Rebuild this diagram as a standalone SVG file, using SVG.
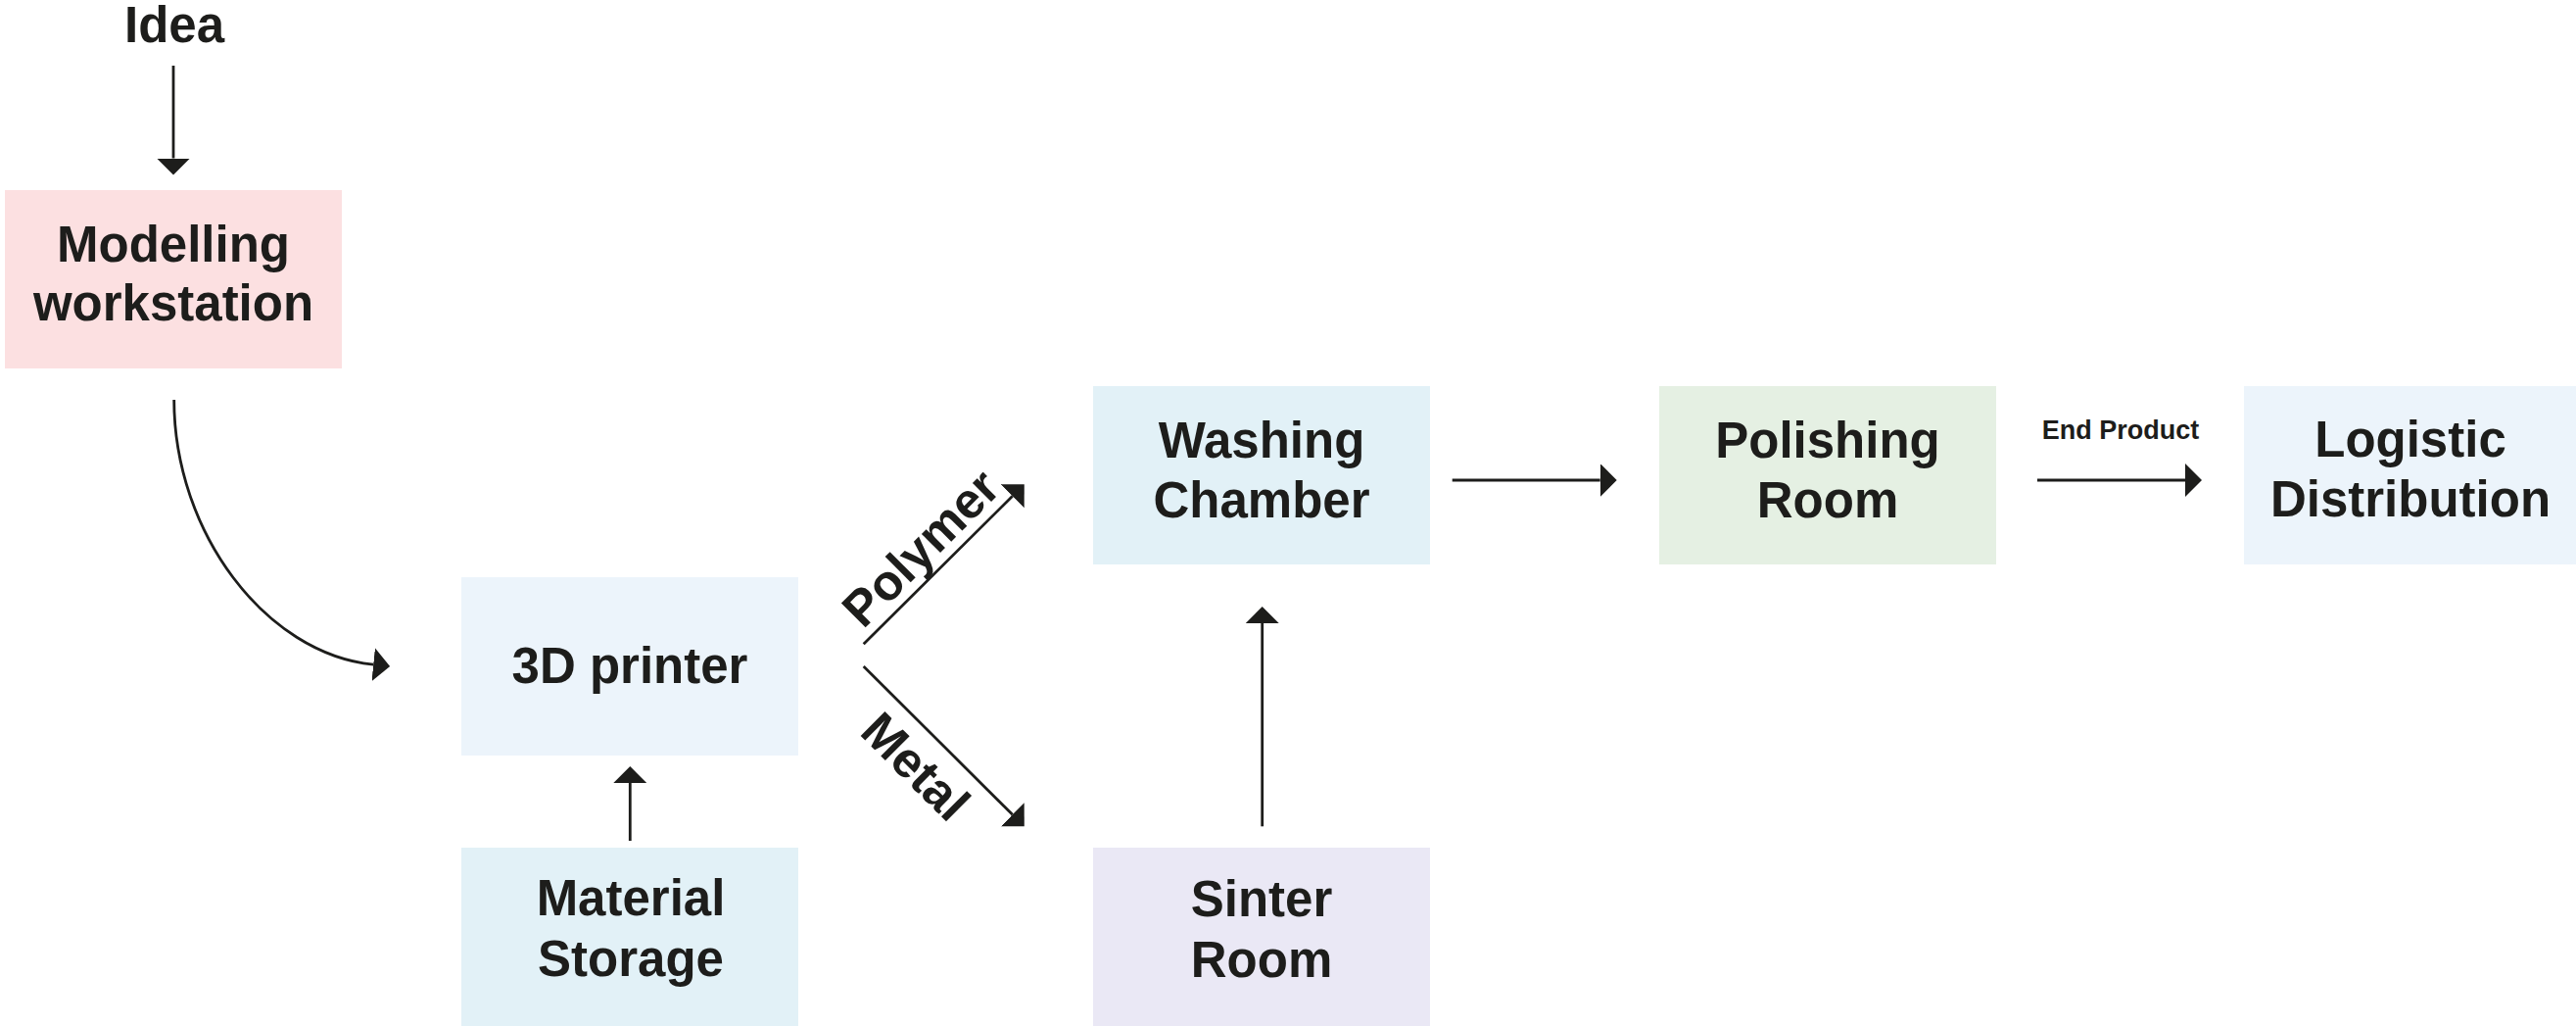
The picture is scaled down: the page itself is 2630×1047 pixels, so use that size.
<svg xmlns="http://www.w3.org/2000/svg" width="2630" height="1047" viewBox="0 0 2630 1047">
  <style>
    .lbl { font-family: "Liberation Sans", Arial, sans-serif; font-weight: bold; font-size: 51px; fill: #1d1d1b; text-anchor: middle; }
    .small { font-size: 27px; }
    .conn { fill: none; stroke: #1d1d1b; stroke-width: 2.8; }
  </style>
  <defs>
    <marker id="arrow" viewBox="0 0 17 34" refX="0" refY="17" markerWidth="17" markerHeight="34" markerUnits="userSpaceOnUse" orient="auto">
      <path d="M0,0 L17,17 L0,34 Z" fill="#1d1d1b"/>
    </marker>
  </defs>
  <rect width="2630" height="1047" fill="#ffffff"/>

  <g id="idea">
    <text class="lbl" x="178" y="43">Idea</text>
  </g>
  <g id="modelling">
    <rect x="5" y="194" width="344" height="182" fill="#fce0e1"/>
    <text class="lbl" x="177" y="267">Modelling</text>
    <text class="lbl" x="177" y="327">workstation</text>
  </g>
  <g id="printer">
    <rect x="471" y="589" width="344" height="182" fill="#ecf4fb"/>
    <text class="lbl" x="643" y="697">3D printer</text>
  </g>
  <g id="material">
    <rect x="471" y="865" width="344" height="182" fill="#e2f1f7"/>
    <text class="lbl" x="644" y="934">Material</text>
    <text class="lbl" x="644" y="996">Storage</text>
  </g>
  <g id="washing">
    <rect x="1116" y="394" width="344" height="182" fill="#e2f1f7"/>
    <text class="lbl" x="1288" y="467">Washing</text>
    <text class="lbl" x="1288" y="528">Chamber</text>
  </g>
  <g id="sinter">
    <rect x="1116" y="865" width="344" height="182" fill="#eae8f5"/>
    <text class="lbl" x="1288" y="935">Sinter</text>
    <text class="lbl" x="1288" y="997">Room</text>
  </g>
  <g id="polishing">
    <rect x="1694" y="394" width="344" height="182" fill="#e5f0e3"/>
    <text class="lbl" x="1866" y="467">Polishing</text>
    <text class="lbl" x="1866" y="528">Room</text>
  </g>
  <g id="logistic">
    <rect x="2291" y="394" width="339" height="182" fill="#ecf4fb"/>
    <text class="lbl" x="2461" y="466">Logistic</text>
    <text class="lbl" x="2461" y="527">Distribution</text>
  </g>

  <g id="connectors">
    <path class="conn" d="M177,67 L177,161.5" marker-end="url(#arrow)"/>
    <path class="conn" d="M177.7,408 C177.7,543 271,667 381.2,678.2" marker-end="url(#arrow)"/>
    <path class="conn" d="M643.3,858 L643.3,799" marker-end="url(#arrow)"/>
    <path class="conn" d="M881.7,657.3 L1033.7,506.3" marker-end="url(#arrow)"/>
    <path class="conn" d="M881.7,680 L1033.7,831.3" marker-end="url(#arrow)"/>
    <path class="conn" d="M1288.7,843.3 L1288.7,636" marker-end="url(#arrow)"/>
    <path class="conn" d="M1482.7,490 L1633.7,490" marker-end="url(#arrow)"/>
    <path class="conn" d="M2080,490 L2231,490" marker-end="url(#arrow)"/>
    <text class="lbl" transform="translate(963.7,575.8) rotate(-45)" x="-5" y="-11">Polymer</text>
    <text class="lbl" transform="translate(963.7,761.7) rotate(45)" x="-6" y="52.5">Metal</text>
    <text class="lbl small" x="2165" y="448">End Product</text>
  </g>
</svg>
